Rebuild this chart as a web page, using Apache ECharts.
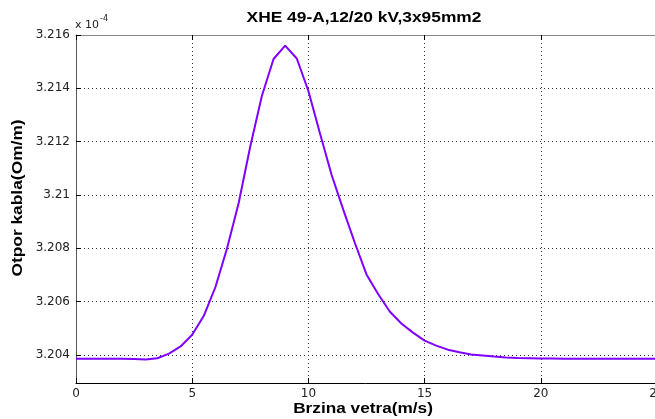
<!DOCTYPE html>
<html>
<head>
<meta charset="utf-8">
<script src="https://cdn.jsdelivr.net/npm/echarts@6/dist/echarts.min.js"></script>
<style>html,body{margin:0;padding:0;background:#fff}#c{width:655px;height:419px}</style>
</head>
<body>
<div id="c"></div>
<script>
const windSpeed = [0,0.5,1,1.5,2,2.5,3,3.5,4,4.5,5,5.5,6,6.5,7,7.5,8,8.5,9,9.5,10,10.5,11,11.5,12,12.5,13,13.5,14,14.5,15,15.5,16,16.5,17,17.5,18,18.5,19,19.5,20,20.5,21,21.5,22,22.5,23,23.5,24,24.5,25];
const resistance = [3.20386,3.20386,3.20386,3.20386,3.20386,3.20385,3.20383,3.20388,3.20405,3.20432,3.20476,3.20547,3.20655,3.20800,3.20970,3.21183,3.21372,3.21510,3.21560,3.21512,3.21390,3.21231,3.21075,3.20945,3.20820,3.20702,3.20629,3.20563,3.20518,3.20484,3.20454,3.20435,3.20420,3.20410,3.20402,3.20398,3.20394,3.20391,3.20389,3.20388,3.20387,3.20387,3.20386,3.20386,3.20386,3.20386,3.20386,3.20386,3.20386,3.20386,3.20386];
const yTicks = [3.204,3.206,3.208,3.21,3.212,3.214,3.216];
const xTicks = [0,5,10,15,20,25];
const titleText = 'XHE 49-A,12/20 kV,3x95mm2';
const xLabel = 'Brzina vetra(m/s)';
const yLabel = 'Otpor kabla(Om/m)';

const chart = echarts.init(document.getElementById('c'), null, {renderer:'canvas'});
const font = 'Liberation Sans, Arial, sans-serif';
const tickFont = 'DejaVu Sans';
chart.setOption({
  animation:false,
  backgroundColor:'#fff',
  grid:{left:76, right:-2, top:35, bottom:36, containLabel:false, outerBoundsMode:'none'},
  xAxis:[{
    type:'value', min:0, max:25, interval:5,
    axisLine:{show:true, onZero:false, lineStyle:{color:'#000', width:1}},
    axisTick:{show:true, inside:true, length:5, lineStyle:{color:'#000'}},
    axisLabel:{color:'#222', fontSize:12, fontFamily:tickFont, margin:5, customValues:xTicks, hideOverlap:false},
    splitLine:{show:true, lineStyle:{type:[1,3], color:'#333', width:1}}
  },{
    type:'value', position:'top', min:0, max:25, interval:5,
    axisLine:{show:true, onZero:false, lineStyle:{color:'#888', width:1}},
    axisTick:{show:true, inside:true, length:5, lineStyle:{color:'#000'}},
    axisLabel:{show:false},
    splitLine:{show:false}
  }],
  yAxis:{
    type:'value', min:3.20295, max:3.216,
    axisLine:{show:true, onZero:false, lineStyle:{color:'#555', width:1}},
    axisTick:{show:true, inside:true, length:5, customValues:yTicks, lineStyle:{color:'#000'}},
    axisLabel:{color:'#222', fontSize:12, fontFamily:tickFont, margin:6, customValues:yTicks,
      formatter:v=>String(parseFloat(v.toFixed(3)))},
    splitLine:{show:true, lineStyle:{type:[1,3], color:'#333', width:1}}
  },
  graphic:[
    {type:'text', x:364, y:18, scaleX:1.24, style:{text:titleText, fill:'#000', font:'bold 14px '+font, align:'center', verticalAlign:'middle'}},
    {type:'text', x:363, y:409, scaleX:1.23, style:{text:xLabel, fill:'#000', font:'bold 14px '+font, align:'center', verticalAlign:'middle'}},
    {type:'text', x:18, y:198, rotation:Math.PI/2, scaleX:1.24, style:{text:yLabel, fill:'#000', font:'bold 14px '+font, align:'center', verticalAlign:'middle'}},
    {type:'text', x:75, y:25, style:{text:'x 10', fill:'#222', font:'11px '+tickFont, verticalAlign:'middle'}},
    {type:'text', x:100, y:19, style:{text:'-4', fill:'#222', font:'8px '+tickFont, verticalAlign:'middle'}}
  ],
  series:[{
    type:'line', xAxisIndex:0, showSymbol:false, smooth:false,
    data:windSpeed.map((x,i)=>[x,resistance[i]]),
    lineStyle:{color:'#7f00ff', width:2}
  }]
});
</script>
</body>
</html>
